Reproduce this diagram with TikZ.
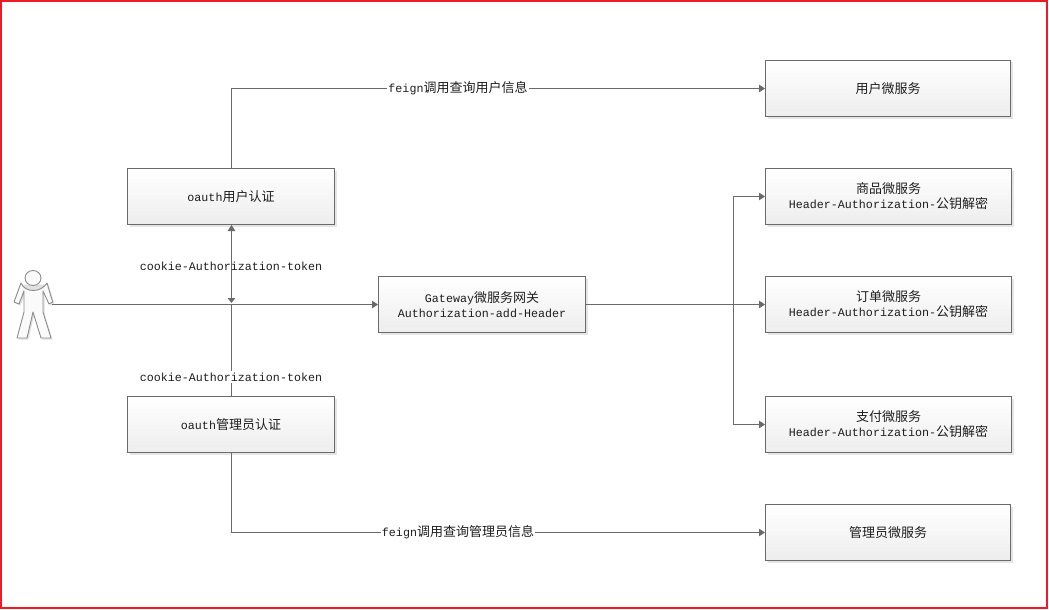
\documentclass[tikz,border=0pt]{standalone}
\usepackage{fontspec}
\setmainfont{Liberation Mono}
\newfontfamily\cjkfont[Scale=1.114]{Noto Sans CJK SC}
\newcommand{\zh}[1]{{\cjkfont #1}}
\usetikzlibrary{arrows.meta,shadows}
\definecolor{linegray}{HTML}{6A6A6A}
\definecolor{framered}{HTML}{ED1C24}
\definecolor{inkgray}{HTML}{1E1E1E}
\tikzset{
  box/.style={draw=linegray,line width=1pt,rectangle,inner sep=0pt,align=center,
    top color=white,bottom color=black!7,text=inkgray,
    general shadow={fill=black!10,draw=none,shadow xshift=2pt,shadow yshift=-2pt},
    font=\fontsize{11.67}{15}\selectfont},
  wide/.style={box,minimum width=246pt,minimum height=56pt},
  svc/.style={box,minimum width=245pt,minimum height=56pt},
  narrow/.style={box,minimum width=207pt,minimum height=56pt},
  conn/.style={draw=linegray,line width=1pt},
  arr/.style={conn,-{Triangle[length=6pt,width=7.5pt]}},
  lbl/.style={text=inkgray,inner sep=0pt,font=\fontsize{11.67}{15}\selectfont},
  lblw/.style={lbl,fill=white,inner xsep=1pt,inner ysep=1.5pt},
  figline/.style={draw=black!45,line width=0.9pt,line join=round,fill=black!2},
  figshadow/.style={fill=black!12,draw=none}
}
\begin{document}
\begin{tikzpicture}[x=1pt,y=-1pt]
\useasboundingbox (0,0) rectangle (1049,610);
\fill[white] (0,0) rectangle (1049,610);
\draw[framered,line width=2pt] (1,1) rectangle (1046.7,608.2);

% nodes
\node[svc]    (usersvc)  at (888,88.5)   {\zh{用户微服务}};
\node[wide]   (goods)    at (888.5,196.5) {\zh{商品微服务}\\Header-Authorization-\zh{公钥解密}};
\node[wide]   (order)    at (888.5,304.5) {\zh{订单微服务}\\Header-Authorization-\zh{公钥解密}};
\node[wide]   (pay)      at (888.5,424.5) {\zh{支付微服务}\\Header-Authorization-\zh{公钥解密}};
\node[svc]    (adminsvc) at (888,532.5)  {\zh{管理员微服务}};
\node[narrow] (oauthu)   at (231,196.5)  {oauth\zh{用户认证}};
\node[narrow] (oautha)   at (231,424.5)  {oauth\zh{管理员认证}};
\node[narrow] (gateway)  at (482,304.5)  {Gateway\zh{微服务网关}\\Authorization-add-Header};

% actor
\node[minimum width=38pt,minimum height=70pt,inner sep=0pt] (actor) at (33,304.5) {};
\coordinate (trunk) at (733.5,304.5);
\coordinate (junction) at (231.5,304.5);

\begin{scope}[shift={(1.5,1.5)}]
\fill[figshadow] (14,302) -- (21,283) -- (47,283) -- (52.7,302) -- (49,304) -- (43,291) -- (43,312) -- (51,338) -- (41,338) -- (33,312) -- (27,338) -- (17,338) -- (24,312) -- (24,291) -- (19,304) -- cycle;
\end{scope}
\path[figline] (14,302) -- (21,283) .. controls (25,293) and (41,293) .. (47,283) -- (52.7,302) -- (49,304) -- (43,291) -- (43,312) -- (51,338) -- (41,338) -- (33,312) -- (27,338) -- (17,338) -- (24,312) -- (24,291) -- (19,304) -- cycle;
\path[figline] (33,278) ellipse (8pt and 7.5pt);

% connectors
\draw[arr] (actor.east) -- (gateway.west);
\draw[conn] ([xshift=.5pt]oautha.north) -- (junction);
\draw[conn,{Triangle[length=6pt,width=7.5pt]}-{Triangle[length=5pt,width=7.5pt]}] ([xshift=.5pt]oauthu.south) -- ([yshift=1.5pt]junction);
\draw[arr] ([xshift=.5pt]oauthu.north) |- (usersvc.west);
\draw[arr] ([xshift=.5pt]oautha.south) |- (adminsvc.west);
\draw[arr] (gateway.east) -- (order.west);
\draw[arr] (trunk) |- (goods.west);
\draw[arr] (trunk) |- (pay.west);

% labels
\node[lbl]  (l1) at (231,266) {cookie-Authorization-token};
\node[lblw] (l2) at (231,377) {cookie-Authorization-token};
\node[lblw] (l3) at (458,88)  {feign\zh{调用查询用户信息}};
\node[lblw] (l4) at (458,532) {feign\zh{调用查询管理员信息}};
\end{tikzpicture}
\end{document}
